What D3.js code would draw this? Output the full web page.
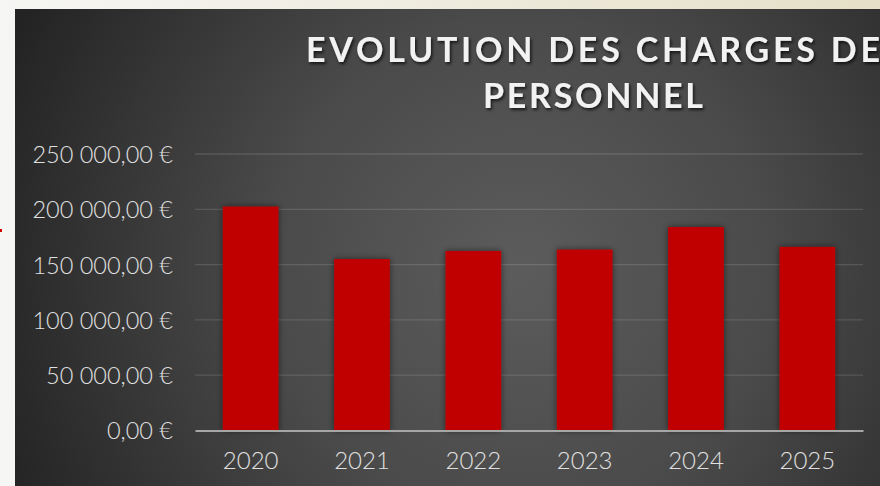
<!DOCTYPE html>
<html>
<head>
<meta charset="utf-8">
<script src="https://cdn.jsdelivr.net/npm/d3@7"></script>
<style>
  html, body { margin: 0; padding: 0; background: #f4f3ef; }
  svg { display: block; }
  .tick-label { font-family: Lato, "Open Sans", sans-serif; font-weight: 300; fill: #e0e0e0; }
  .chart-title { font-family: Lato, "Open Sans", sans-serif; font-weight: 700; fill: #f2f2f2; }
</style>
</head>
<body>
<div id="chart-container"></div>
<script>
//data
var years = ['2020', '2021', '2022', '2023', '2024', '2025'],
    charges = [202500, 155000, 162300, 163600, 184000, 166000],
    yTicks = [0, 50000, 100000, 150000, 200000, 250000],
    titleLines = ['EVOLUTION DES CHARGES DE', 'PERSONNEL'];

//sizes
var outerW = 880,
    outerH = 486,
    margin = { left: 195, right: 17, top: 154, bottom: 55.5 },
    w = outerW - margin.left - margin.right,
    h = outerH - margin.top - margin.bottom;

var svg = d3.select('#chart-container').append('svg')
    .attr('width', outerW)
    .attr('height', outerH);

var defs = svg.append('defs');

//page background (slide edge)
var pageGrad = defs.append('linearGradient')
    .attr('id', 'page-grad')
    .attr('x1', '0').attr('y1', '0').attr('x2', '1').attr('y2', '0');
pageGrad.append('stop').attr('offset', '0').attr('stop-color', '#f6f6f4');
pageGrad.append('stop').attr('offset', '1').attr('stop-color', '#e6e0c8');

svg.append('rect')
    .attr('width', outerW)
    .attr('height', outerH)
    .attr('fill', 'url(#page-grad)');

//small red mark on the slide edge
svg.append('rect')
    .attr('x', 0).attr('y', 229)
    .attr('width', 2).attr('height', 3)
    .attr('fill', '#d00000');

//chart panel
var panelGrad = defs.append('radialGradient')
    .attr('id', 'panel-grad')
    .attr('gradientUnits', 'userSpaceOnUse')
    .attr('cx', 520).attr('cy', 270).attr('r', 560);
panelGrad.append('stop').attr('offset', '0').attr('stop-color', '#5c5c5c');
panelGrad.append('stop').attr('offset', '0.45').attr('stop-color', '#4a4a4a');
panelGrad.append('stop').attr('offset', '1').attr('stop-color', '#232323');

svg.append('rect')
    .attr('x', 15).attr('y', 9)
    .attr('width', outerW - 15)
    .attr('height', outerH - 9)
    .attr('fill', 'url(#panel-grad)');

//shadows
var barShadow = defs.append('filter')
    .attr('id', 'bar-shadow')
    .attr('x', '-30%').attr('y', '-10%').attr('width', '160%').attr('height', '120%');
barShadow.append('feDropShadow')
    .attr('dx', 0).attr('dy', 0).attr('stdDeviation', 3)
    .attr('flood-color', '#000').attr('flood-opacity', 0.55);

var titleShadow = defs.append('filter')
    .attr('id', 'title-shadow')
    .attr('x', '-5%').attr('y', '-20%').attr('width', '110%').attr('height', '150%');
titleShadow.append('feDropShadow')
    .attr('dx', 1.5).attr('dy', 2).attr('stdDeviation', 1.5)
    .attr('flood-color', '#000').attr('flood-opacity', 0.7);

//scales
var xScale = d3.scaleBand().domain(years).range([0, w]).paddingInner(0.5).paddingOuter(0.25),
    yScale = d3.scaleLinear().domain([0, 250000]).range([h, 0]);

var g = svg.append('g')
    .attr('transform', 'translate(' + margin.left + ', ' + margin.top + ')');

//gridlines
g.selectAll('.grid-line')
    .data(yTicks.filter(function(d) { return d > 0; }))
    .enter()
    .append('line')
    .attr('class', 'grid-line')
    .attr('x1', 0).attr('x2', w)
    .attr('y1', function(d) { return yScale(d); })
    .attr('y2', function(d) { return yScale(d); })
    .attr('stroke', '#ffffff')
    .attr('stroke-opacity', 0.13)
    .attr('stroke-width', 1.3);

//y axis labels
var euro = function(d) {
    var parts = d3.format(',.2f')(d).split('.');
    return parts[0].replace(/,/g, '\u00a0') + ',' + parts[1] + ' \u20ac';
};

var yAxis = d3.axisLeft(yScale)
    .tickValues(yTicks)
    .tickSize(0)
    .tickPadding(22)
    .tickFormat(euro);

var yAxisG = g.append('g').call(yAxis);
yAxisG.select('.domain').remove();
yAxisG.selectAll('text')
    .attr('class', 'tick-label')
    .attr('font-size', 23.5)
    .attr('dy', '0.36em');

//bars
g.selectAll('.bar')
    .data(charges)
    .enter()
    .append('rect')
    .attr('class', 'bar')
    .attr('x', function(d, i) { return xScale(years[i]); })
    .attr('y', function(d) { return yScale(d); })
    .attr('width', xScale.bandwidth())
    .attr('height', function(d) { return h - yScale(d); })
    .attr('fill', '#c00000')
    .attr('filter', 'url(#bar-shadow)');

//x axis
var xAxis = d3.axisBottom(xScale)
    .tickSize(0)
    .tickSizeOuter(0)
    .tickPadding(21);

var xAxisG = g.append('g')
    .attr('transform', 'translate(0,' + h + ')')
    .call(xAxis);
xAxisG.select('.domain')
    .attr('stroke', '#a6a6a6')
    .attr('stroke-width', 2);
xAxisG.selectAll('text')
    .attr('class', 'tick-label')
    .attr('font-size', 24)
    .attr('dy', '0.71em');

//title
var title = svg.append('text')
    .attr('class', 'chart-title')
    .attr('text-anchor', 'middle')
    .attr('font-size', 34)
    .attr('filter', 'url(#title-shadow)');

title.append('tspan')
    .attr('x', 593).attr('y', 62)
    .attr('textLength', 574)
    .attr('lengthAdjust', 'spacing')
    .text(titleLines[0]);

title.append('tspan')
    .attr('x', 593).attr('y', 108)
    .attr('textLength', 220)
    .attr('lengthAdjust', 'spacing')
    .text(titleLines[1]);
</script>
</body>
</html>
